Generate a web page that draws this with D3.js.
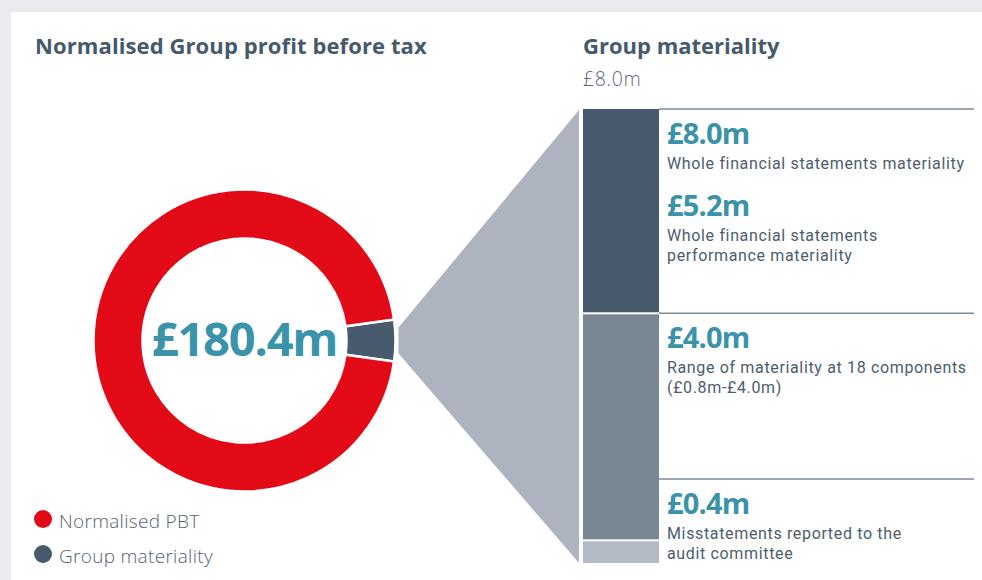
<!DOCTYPE html>
<html>
<head>
<meta charset="utf-8">
<script src="https://cdn.jsdelivr.net/npm/d3@7"></script>
<style>
  html, body { margin: 0; padding: 0; background: #e9ebef; }
  svg { display: block; font-family: "Open Sans", "Noto Sans", sans-serif; }
</style>
</head>
<body>
<svg id="chart" width="982" height="580"></svg>
<script>
// ---- data ----
const donutCategories = ["Normalised PBT", "Group materiality"];
const normalisedPBT = 180.4;          // £m
const groupMateriality = 8.0;         // £m
const donutColors = ["#e30a17", "#475b6d"];

// stacked materiality bar (bottom to top), £m
const barSegments = ["Misstatements", "Component materiality", "Group materiality"];
const barValues = [0.4, 4.0, 3.6];    // sums to group materiality
const barColors = ["#b4bbc6", "#788593", "#475b6d"];

// right-hand value labels and descriptions
const valueLabels = ["£8.0m", "£5.2m", "£4.0m", "£0.4m"];
const descriptions = [
  ["Whole financial statements materiality"],
  ["Whole financial statements", "performance materiality"],
  ["Range of materiality at 18 components", "(£0.8m-£4.0m)"],
  ["Misstatements reported to the", "audit committee"]
];

// ---- layout ----
const svg = d3.select("#chart");
const W = 982, H = 580;
const ink = "#465a6b", teal = "#3a93a8";

svg.append("rect").attr("x", 11).attr("y", 12).attr("width", W - 11).attr("height", H - 12).attr("fill", "#fff");

// titles
svg.append("text").attr("x", 35).attr("y", 54).attr("fill", ink)
  .attr("font-size", 22).attr("font-weight", 700).attr("letter-spacing", 0.1)
  .text("Normalised Group profit before tax");
svg.append("text").attr("x", 583).attr("y", 54).attr("fill", ink)
  .attr("font-size", 22).attr("font-weight", 700)
  .text("Group materiality");
svg.append("text").attr("x", 583).attr("y", 86).attr("fill", "#5f6b78")
  .attr("font-size", 19.5).attr("font-weight", 300).attr("letter-spacing", 0.6)
  .text("£" + groupMateriality.toFixed(1) + "m");

// ---- donut ----
const cx = 244.5, cy = 340.5, rOuter = 151, rInner = 102;
const share = groupMateriality / normalisedPBT;
const sliceAngle = 2 * Math.PI * share;
const start = Math.PI / 2 - sliceAngle / 2;

const pie = d3.pie().sort(null).value(d => d.v)
  .startAngle(start).endAngle(start + 2 * Math.PI);
const donutData = [
  { k: donutCategories[1], v: groupMateriality, c: donutColors[1] },
  { k: donutCategories[0], v: normalisedPBT - groupMateriality, c: donutColors[0] }
];
const arc = d3.arc().innerRadius(rInner).outerRadius(rOuter);

// bar scale
const total = d3.sum(barValues);
const y = d3.scaleLinear().domain([0, total]).range([563, 109]);
const barX0 = 583, barX1 = 659;

// connector from the materiality slice to the bar
const tipX = cx + rOuter + 3;
const tipHalf = rOuter * Math.sin(sliceAngle / 2) * 0.62;
svg.append("path")
  .attr("d", d3.line()([[tipX, cy - tipHalf], [barX0 - 4, y(total) + 1], [barX0 - 4, y(0)], [tipX, cy + tipHalf]]) + "Z")
  .attr("fill", "#aeb4bf");

const g = svg.append("g").attr("transform", `translate(${cx},${cy})`);
g.selectAll("path").data(pie(donutData)).join("path")
  .attr("d", arc).attr("fill", d => d.data.c)
  .attr("stroke", "#fff").attr("stroke-width", 2.5);

g.append("text").attr("text-anchor", "middle").attr("y", 15.5)
  .attr("fill", teal).attr("font-size", 47).attr("font-weight", 700).attr("letter-spacing", -1.2)
  .text("£" + normalisedPBT.toFixed(1) + "m");

// legend
const legend = svg.append("g");
donutCategories.forEach((name, i) => {
  const ly = 519 + i * 35;
  legend.append("circle").attr("cx", 43).attr("cy", ly).attr("r", 9).attr("fill", donutColors[i]);
  legend.append("text").attr("x", 59).attr("y", ly + 9).attr("fill", "#56636f")
    .attr("font-size", 19).attr("font-weight", 300).attr("letter-spacing", 0.3).text(name);
});

// ---- stacked bar ----
const stacked = [];
let acc = 0;
barValues.forEach((v, i) => { stacked.push({ lo: acc, hi: acc + v, c: barColors[i], k: barSegments[i] }); acc += v; });
svg.append("g").selectAll("rect").data(stacked).join("rect")
  .attr("x", barX0).attr("width", barX1 - barX0)
  .attr("y", d => y(d.hi) + (d.hi < total ? 1 : 0))
  .attr("height", d => y(d.lo) - y(d.hi) - (d.hi < total ? 1 : 0) - (d.lo > 0 ? 1 : 0))
  .attr("fill", d => d.c);

// rules and label blocks
const ruleYs = [y(total), y(stacked[1].hi), 479];
svg.append("g").selectAll("line").data(ruleYs).join("line")
  .attr("x1", barX1).attr("x2", 974).attr("y1", d => d).attr("y2", d => d)
  .attr("stroke", "#7f8b97").attr("stroke-width", 1.5);

const blockTops = [ruleYs[0], ruleYs[0] + 72, ruleYs[1], ruleYs[2]];
const blocks = svg.append("g");
valueLabels.forEach((lab, i) => {
  const top = blockTops[i];
  blocks.append("text").attr("x", 667).attr("y", top + 34.5)
    .attr("fill", teal).attr("font-size", 29).attr("font-weight", 700).attr("letter-spacing", -0.8)
    .text(lab);
  descriptions[i].forEach((line, j) => {
    blocks.append("text").attr("x", 667).attr("y", top + 60 + j * 19.5)
      .attr("fill", "#4d5d6c").attr("font-family", "Roboto, sans-serif")
      .attr("font-size", 16).attr("letter-spacing", 0.65).text(line);
  });
});
</script>
</body>
</html>
